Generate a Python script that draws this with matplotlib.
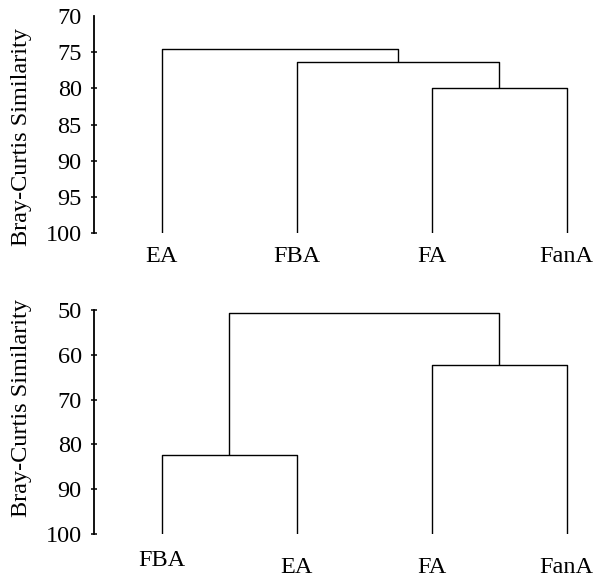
import matplotlib
matplotlib.use("Agg")
import matplotlib.pyplot as plt
import matplotlib.transforms as mtransforms

# ---- data ----
top_leaves = ["EA", "FBA", "FA", "FanA"]
# merges: (left node, right node, similarity); nodes 0..3 leaves, 4.. new clusters
top_merges = [(2, 3, 79.9), (1, 4, 76.3), (0, 5, 74.6)]
top_ticks = [70, 75, 80, 85, 90, 95, 100]

bot_leaves = ["FBA", "EA", "FA", "FanA"]
bot_merges = [(2, 3, 62.3), (0, 1, 82.3), (5, 4, 50.7)]
bot_ticks = [50, 60, 70, 80, 90, 100]

ylabel = "Bray-Curtis Similarity"

plt.rcParams["font.family"] = ["Liberation Serif", "DejaVu Serif"]
FS = 17.5

W, H = 597, 580
fig = plt.figure(figsize=(W / 100, H / 100), dpi=100)


def px_axes(left, right, top, bottom):
    return fig.add_axes([left / W, 1 - bottom / H, (right - left) / W, (bottom - top) / H])


def draw(ax, leaves, merges, ticks, label_offsets):
    n = len(leaves)
    xs = {i: float(i) for i in range(n)}
    ys = {i: 100.0 for i in range(n)}
    for k, (a, b, h) in enumerate(merges):
        node = n + k
        ax.plot([xs[a], xs[a], xs[b], xs[b]], [ys[a], h, h, ys[b]],
                color="black", lw=1.0, solid_capstyle="butt")
        xs[node] = (xs[a] + xs[b]) / 2
        ys[node] = h
    ax.set_ylim(max(ticks), min(ticks))
    ax.set_xlim(-0.5, 3.224)
    ax.set_yticks(ticks)
    ax.set_yticklabels([str(t) for t in ticks], fontsize=FS)
    ax.set_xticks([])
    for s in ["top", "right", "bottom"]:
        ax.spines[s].set_visible(False)
    ax.spines["left"].set_linewidth(1.3)
    ax.tick_params(axis="y", direction="inout", length=5, width=1.1, pad=6.5)
    trans = mtransforms.blended_transform_factory(ax.transData, ax.transAxes)
    for i, lab in enumerate(leaves):
        ax.text(i, label_offsets[i], lab, transform=trans, ha="center", va="center",
                fontsize=FS)


ax1 = px_axes(94.3, W, 16, 233.3)
draw(ax1, top_leaves, top_merges, top_ticks, [-0.105] * 4)
ax1.yaxis.get_major_ticks()[0].tick1line.set_visible(False)

ax2 = px_axes(94.3, W, 310, 534)
draw(ax2, bot_leaves, bot_merges, bot_ticks, [-0.12, -0.149, -0.149, -0.149])

fig.text(22 / W, 1 - 137 / H, ylabel, rotation=90, ha="center", va="center", fontsize=FS)
fig.text(22 / W, 1 - 408 / H, ylabel, rotation=90, ha="center", va="center", fontsize=FS)

fig.savefig("out.png", dpi=100)
